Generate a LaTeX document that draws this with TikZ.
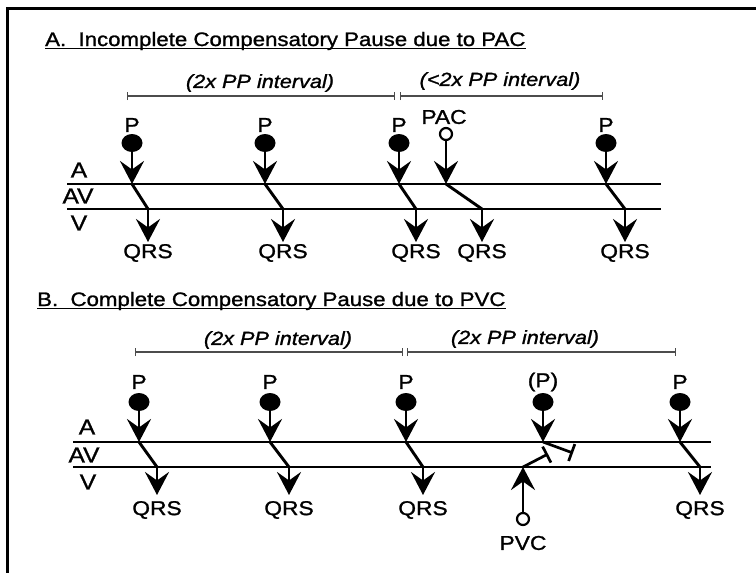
\documentclass[tikz,border=0pt]{standalone}
\usepackage{fontspec}
\setmainfont[FakeStretch=1.14,FakeBold=1.2]{Liberation Sans}
\usetikzlibrary{arrows.meta,shapes.geometric}
\begin{document}
\begin{tikzpicture}[x=1pt,y=-1pt,
  txt/.style={inner sep=0pt,font=\fontsize{20}{23}\selectfont},
  rowlab/.style={inner sep=0pt,font=\fontsize{21.5}{24}\selectfont},
  ivtxt/.style={inner sep=0pt,font=\fontsize{19}{22}\selectfont\itshape},
  ttl/.style={inner sep=0pt,anchor=base west,font=\fontsize{19.5}{23}\selectfont},
  ul/.style={line width=1.8pt},
  pdot/.style={ellipse,fill=black,inner sep=0pt,minimum width=21pt,minimum height=18pt},
  ecto/.style={circle,draw,line width=2.2pt,inner sep=0pt,minimum size=12pt},
  track/.style={line width=2.9pt},
  arr/.style={line width=2.9pt,-{Stealth[length=23pt,width=24pt,inset=8.5pt]}},
  cond/.style={line width=2.9pt},
  blk/.style={line width=2.7pt,-{Bar[width=18pt,line width=2.7pt]}},
  ivbar/.style={line width=1.2pt,draw=black!70,{Bar[width=8pt]}-{Bar[width=8pt]}},
  frame/.style={line width=3pt}]
\useasboundingbox (0,0) rectangle (756,573);
\draw[frame] (7,573) -- (7,8) -- (756,8);

% ================= Panel A =================
\node[ttl] (tA) at (45,46) {A.\ \ Incomplete Compensatory Pause due to PAC};
\draw[ul] ([yshift=-2.5pt]tA.base west) -- ([yshift=-2.5pt]tA.base east);

\coordinate (ia0) at (127,96);
\coordinate (ia1) at (395,96);
\coordinate (ia2) at (400,96);
\coordinate (ia3) at (603,96);
\draw[ivbar] (ia0) -- (ia1);
\draw[ivbar] (ia2) -- (ia3);
\node[ivtxt] (iaT1) at (260,83) {(2x PP interval)};
\node[ivtxt] (iaT2) at (500,81) {(<2x PP interval)};

\coordinate (aL) at (67,184); \coordinate (aR) at (661,184);
\coordinate (vL) at (67,209); \coordinate (vR) at (661,209);
\draw[track] (aL) -- (aR);
\draw[track] (vL) -- (vR);
\node[rowlab] (lA) at (79,170) {A};
\node[rowlab] (lAV) at (78,196) {AV};
\node[rowlab] (lV) at (79,223) {V};

% P waves, panel A
\foreach \i/\x/\e in {1/132/148, 2/265/283, 3/399/416, 4/606/625}{
  \node[pdot] (pa\i) at (\x,143) {};
  \node[txt] (pla\i) at (\x,125) {P};
  \coordinate (aa\i) at (\x,184);
  \coordinate (va\i) at (\e,209);
  \coordinate (qa\i) at (\e,242);
  \draw[arr] (pa\i) -- (aa\i);
  \draw[cond] (aa\i) -- (va\i);
  \draw[arr] (va\i) -- (qa\i);
  \node[txt] (qla\i) at (\e,253) {QRS};
}
% PAC
\node[ecto] (pac) at (446,134) {};
\node[txt] (pacl) at (444,117) {PAC};
\coordinate (aac) at (446,184);
\coordinate (vac) at (482,209);
\coordinate (qac) at (482,242);
\draw[arr] (pac) -- (aac);
\draw[cond] (aac) -- (vac);
\draw[arr] (vac) -- (qac);
\node[txt] (qlac) at (482,253) {QRS};

% ================= Panel B =================
\node[ttl] (tB) at (37,306) {B.\ \ Complete Compensatory Pause due to PVC};
\draw[ul] ([yshift=-2.5pt]tB.base west) -- ([yshift=-2.5pt]tB.base east);

\coordinate (ib0) at (135,352);
\coordinate (ib1) at (403,352);
\coordinate (ib2) at (407,352);
\coordinate (ib3) at (676,352);
\draw[ivbar] (ib0) -- (ib1);
\draw[ivbar] (ib2) -- (ib3);
\node[ivtxt] (ibT1) at (278,340) {(2x PP interval)};
\node[ivtxt] (ibT2) at (525,339) {(2x PP interval)};

\coordinate (bAL) at (73,442); \coordinate (bAR) at (711,442);
\coordinate (bVL) at (73,467); \coordinate (bVR) at (711,467);
\draw[track] (bAL) -- (bAR);
\draw[track] (bVL) -- (bVR);
\node[rowlab] (mA) at (87,427) {A};
\node[rowlab] (mAV) at (84,455) {AV};
\node[rowlab] (mV) at (88,482) {V};

\foreach \i/\x/\e in {1/139/157, 2/270/289, 3/406/423, 5/680/700}{
  \node[pdot] (pb\i) at (\x,402) {};
  \node[txt] (plb\i) at (\x,382) {P};
  \coordinate (ab\i) at (\x,442);
  \coordinate (vb\i) at (\e,467);
  \coordinate (qb\i) at (\e,495);
  \draw[arr] (pb\i) -- (ab\i);
  \draw[cond] (ab\i) -- (vb\i);
  \draw[arr] (vb\i) -- (qb\i);
  \node[txt] (qlb\i) at (\e,510) {QRS};
}
% blocked (P)
\node[pdot] (pb4) at (543,402) {};
\node[txt] (plb4) at (543,382) {(P)};
\coordinate (ab4) at (543,442);
\coordinate (bk4) at (573,453);
\draw[arr] (pb4) -- (ab4);
\draw[blk] (ab4) -- (bk4);
% PVC
\node[ecto] (pvc) at (523,519) {};
\node[txt] (pvcl) at (523,543) {PVC};
\coordinate (vpv) at (523,467);
\coordinate (bkv) at (548,454);
\draw[arr] (pvc) -- (vpv);
\draw[blk] (vpv) -- (bkv);
\end{tikzpicture}
\end{document}
